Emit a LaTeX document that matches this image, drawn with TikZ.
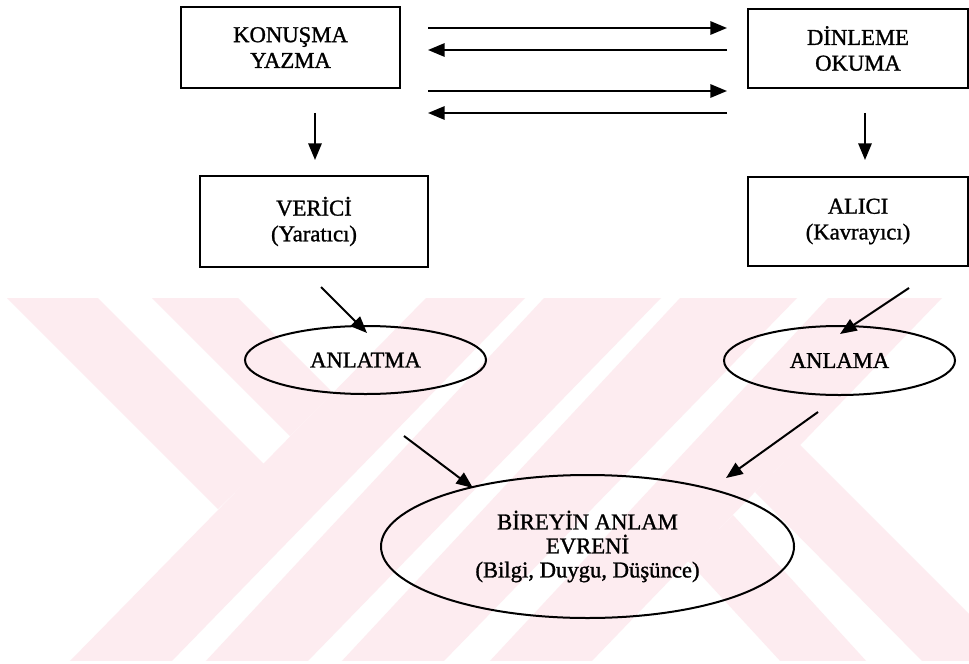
\documentclass[tikz,border=0pt]{standalone}
\usepackage{fontspec}
\setmainfont{Liberation Serif}
\newfontfamily\scanfont{Liberation Serif}[FakeBold=1.2]
\usetikzlibrary{arrows.meta,shapes.geometric}
\definecolor{wm}{RGB}{253,236,240}
\tikzset{
  box/.style={draw, line width=1.5pt, rectangle, inner sep=0pt, align=center, font=\scanfont\fontsize{17}{19.3}\selectfont},
  oval/.style={draw, line width=1.5pt, ellipse, inner sep=0pt, align=center, font=\scanfont\fontsize{17}{18}\selectfont},
  arr/.style={line width=1.5pt, -{Triangle[length=12.5pt,width=10pt]}},
  band/.style={fill=wm}
}
\begin{document}
\begin{tikzpicture}[x=0.75pt,y=-0.75pt]
\useasboundingbox (0,0) rectangle (969,663);
\fill[white] (0,0) rectangle (969,663);
% watermark (YOK logo)
\begin{scope}
\clip (0,298) rectangle (969,660);
\fill[band] (68,663) -- (170,663) -- (525,298) -- (426,298) -- cycle;
\fill[band] (204,663) -- (306,663) -- (661,298) -- (544,298) -- cycle;
\fill[band] (340,663) -- (442,663) -- (797,298) -- (680,298) -- cycle;
\fill[band] (488,663) -- (590,663) -- (942,298) -- (828,298) -- cycle;
\fill[band] (7,298) -- (98,298) -- (264,464) -- (218,509) -- cycle;
\fill[band] (152,298) -- (238,298) -- (333,393) -- (290,436) -- cycle;
\fill[band] (688,561) -- (733,515) -- (868,663) -- (782,663) -- cycle;
\fill[band] (755,492) -- (800,445) -- (969,614) -- (969,663) -- (924,663) -- cycle;
\end{scope}
% boxes
\node[box, minimum width=164.25pt, minimum height=60.75pt] (kon) at (290.5,47.5) {KONUŞMA\\YAZMA};
\node[box, minimum width=165pt, minimum height=59.25pt] (din) at (858,48.5) {DİNLEME\\OKUMA};
\node[box, minimum width=171pt, minimum height=68.25pt] (ver) at (314,221.5) {VERİCİ\\(Yaratıcı)};
\node[box, minimum width=165pt, minimum height=66.75pt] (ali) at (858,221.5) {ALICI\\(Kavrayıcı)};
% ellipses
\node[oval, minimum width=180.75pt, minimum height=51pt] (anlt) at (365.5,360) {ANLATMA};
\node[oval, minimum width=173.25pt, minimum height=51.75pt] (anla) at (839.5,360.5) {ANLAMA};
\node[oval, minimum width=309.75pt, minimum height=107.25pt] (bir) at (587.5,546.5) {BİREYİN ANLAM\\EVRENİ\\(Bilgi, Duygu, Düşünce)};
% arrow end points
\coordinate (h1a) at (428,28);  \coordinate (h1b) at (727,28);
\coordinate (h2a) at (727,50);  \coordinate (h2b) at (428,50);
\coordinate (h3a) at (428,91);  \coordinate (h3b) at (727,91);
\coordinate (h4a) at (727,113); \coordinate (h4b) at (428,113);
\coordinate (v1a) at (315,113); \coordinate (v1b) at (315,160);
\coordinate (v2a) at (865,113); \coordinate (v2b) at (865,160);
\coordinate (s1a) at (321,287); \coordinate (s1b) at (367,333);
\coordinate (s2a) at (909,288); \coordinate (s2b) at (840,334);
\coordinate (s3a) at (404,436); \coordinate (s3b) at (473,488);
\coordinate (s4a) at (818,412); \coordinate (s4b) at (726,478);
\draw[arr] (h1a) -- (h1b);
\draw[arr] (h2a) -- (h2b);
\draw[arr] (h3a) -- (h3b);
\draw[arr] (h4a) -- (h4b);
\draw[arr] (v1a) -- (v1b);
\draw[arr] (v2a) -- (v2b);
\draw[arr] (s1a) -- (s1b);
\draw[arr] (s2a) -- (s2b);
\draw[arr] (s3a) -- (s3b);
\draw[arr] (s4a) -- (s4b);
\end{tikzpicture}
\end{document}
